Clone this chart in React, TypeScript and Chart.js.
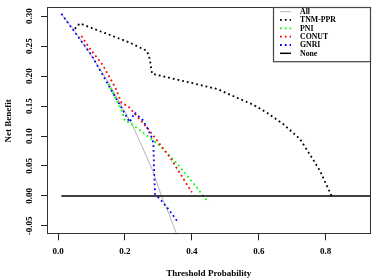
import React, { useEffect, useRef } from "react";
import { Chart, registerables } from "chart.js";

Chart.register(...registerables);

// ---- data ----
const legendLabels = ["All", "TNM-PPR", "PNI", "CONUT", "GNRI", "None"];

const allX = [0.01, 0.05, 0.10, 0.15, 0.20, 0.224, 0.25, 0.284, 0.309, 0.33, 0.356];
const allY = [0.304, 0.275, 0.234, 0.19, 0.14, 0.116, 0.084, 0.041, 0.0, -0.028, -0.066];

const tnmX = [0.05, 0.065, 0.214, 0.266, 0.274, 0.281, 0.479, 0.514, 0.584, 0.624, 0.673, 0.723, 0.754, 0.784, 0.819];
const tnmY = [0.279, 0.288, 0.256, 0.242, 0.229, 0.204, 0.178, 0.169, 0.152, 0.139, 0.12, 0.095, 0.068, 0.041, -0.002];

const pniX = [0.15, 0.19, 0.2, 0.215, 0.242, 0.304, 0.359, 0.419, 0.449];
const pniY = [0.187, 0.143, 0.125, 0.122, 0.111, 0.084, 0.052, 0.011, -0.011];

const conutX = [0.07, 0.094, 0.134, 0.172, 0.19, 0.209, 0.269, 0.334, 0.4];
const conutY = [0.267, 0.247, 0.218, 0.18, 0.155, 0.15, 0.112, 0.065, 0.006];

const gnriX = [0.01, 0.1, 0.174, 0.19, 0.206, 0.214, 0.229, 0.254, 0.27, 0.281, 0.285, 0.287, 0.29, 0.309, 0.334, 0.36];
const gnriY = [0.304, 0.235, 0.162, 0.147, 0.131, 0.123, 0.139, 0.126, 0.11, 0.096, 0.088, 0.046, 0.003, -0.008, -0.025, -0.045];

const noneX = [0.01, 0.99];
const noneY = [0, 0];

const xTicks = [0.0, 0.2, 0.4, 0.6, 0.8];
const yTicks = [-0.05, 0.0, 0.05, 0.1, 0.15, 0.2, 0.25, 0.3];

const pts = (xs: number[], ys: number[]) => xs.map((x, i) => ({ x, y: ys[i] }));

const FONT = "'Liberation Serif', 'Times New Roman', serif";

export default function App() {
  const ref = useRef<HTMLCanvasElement>(null);

  useEffect(() => {
    if (!ref.current) return;
    const dotted = [1.8, 3.0];
    const styles = [
      { color: "#b4b4b4", width: 1, dash: [] as number[] },
      { color: "#000000", width: 1.8, dash: dotted },
      { color: "#00ff00", width: 1.8, dash: dotted },
      { color: "#ff0000", width: 1.8, dash: dotted },
      { color: "#0000ff", width: 1.8, dash: dotted },
      { color: "#000000", width: 1.5, dash: [] as number[] },
    ];
    const series = [
      pts(allX, allY),
      pts(tnmX, tnmY),
      pts(pniX, pniY),
      pts(conutX, conutY),
      pts(gnriX, gnriY),
      pts(noneX, noneY),
    ];
    const datasets = series.map((d, i) => ({
      label: legendLabels[i],
      data: d,
      showLine: true,
      pointRadius: 0,
      borderColor: styles[i].color,
      borderWidth: styles[i].width,
      borderDash: styles[i].dash,
      borderCapStyle: "butt" as const,
      tension: 0,
      fill: false,
      order: series.length - i,
    }));

    const boxPlugin = {
      id: "rbox",
      afterDraw(chart: any) {
        const { ctx, chartArea: a } = chart;
        ctx.save();
        ctx.strokeStyle = "#333";
        ctx.lineWidth = 1;
        const l = Math.round(a.left) + 0.5;
        const t = Math.round(a.top) + 0.5;
        const r = Math.round(a.right) - 0.5;
        const b = Math.round(a.bottom) - 0.5;
        ctx.strokeRect(l, t, r - l, b - t);
        // legend box (top-right, inside plot)
        const lx = 273.5, ly = t, lw = r - 273.5, lh = 61.7 - t;
        ctx.fillStyle = "#fff";
        ctx.fillRect(lx, ly, lw, lh);
        ctx.strokeStyle = "#444";
        ctx.lineWidth = 1.2;
        ctx.strokeRect(lx, ly, lw, lh);
        const rowY = [11.7, 19.9, 28.3, 36.7, 45.0, 53.3];
        for (let i = 0; i < legendLabels.length; i++) {
          const st = styles[i];
          ctx.beginPath();
          ctx.strokeStyle = st.color;
          ctx.lineWidth = st.width;
          ctx.setLineDash(st.dash);
          ctx.lineCap = "butt";
          ctx.moveTo(280, rowY[i]);
          ctx.lineTo(291, rowY[i]);
          ctx.stroke();
          ctx.setLineDash([]);
          ctx.fillStyle = "#000";
          ctx.font = `bold 7.8px ${FONT}`;
          ctx.textBaseline = "middle";
          ctx.textAlign = "left";
          ctx.fillText(legendLabels[i], 300, rowY[i] + 0.3);
        }
        ctx.restore();
      },
    };

    const chart = new Chart(ref.current, {
      type: "scatter",
      data: { datasets },
      options: {
        animation: false,
        responsive: false,
        devicePixelRatio: 1,
        layout: { padding: { top: 2.7, right: 2.5, left: 0, bottom: 0 } },
        plugins: { legend: { display: false }, tooltip: { enabled: false } },
        scales: {
          x: {
            type: "linear",
            min: -0.033,
            max: 0.934,
            afterFit: (s: any) => { s.height = 45.7; },
            afterBuildTicks: (s: any) => { s.ticks = xTicks.map((v) => ({ value: v })); },
            border: { display: false },
            grid: { display: true, drawOnChartArea: false, drawTicks: true, tickLength: 6, tickColor: "#222", lineWidth: 1 },
            ticks: {
              color: "#000",
              font: { family: FONT, size: 9, weight: "bold" },
              padding: 6,
              maxRotation: 0,
              minRotation: 0,
              autoSkip: false,
              callback: (v: any) => Number(v).toFixed(1),
            },
            title: {
              display: true,
              text: "Threshold Probability",
              color: "#000",
              font: { family: FONT, size: 9, weight: "bold" },
              padding: { top: 0, bottom: 0.6 },
            },
          },
          y: {
            type: "linear",
            min: -0.0641,
            max: 0.3147,
            afterFit: (s: any) => { s.width = 47; },
            afterBuildTicks: (s: any) => { s.ticks = yTicks.map((v) => ({ value: v })); },
            border: { display: false },
            grid: { display: true, drawOnChartArea: false, drawTicks: true, tickLength: 6, tickColor: "#222", lineWidth: 1 },
            ticks: {
              color: "#000",
              font: { family: FONT, size: 9, weight: "bold" },
              padding: 2,
              minRotation: 90,
              maxRotation: 90,
              crossAlign: "center",
              autoSkip: false,
              callback: (v: any) => Number(v).toFixed(2),
            },
            title: {
              display: true,
              text: "Net Benefit",
              color: "#000",
              font: { family: FONT, size: 9, weight: "bold" },
              padding: { top: 3.6, bottom: 0 },
            },
          },
        },
      },
      plugins: [boxPlugin],
    });
    return () => chart.destroy();
  }, []);

  return (
    <div style={{ position: "fixed", left: 0, top: 0, width: 373, height: 280, background: "#fff" }}>
      <canvas ref={ref} width={373} height={280} style={{ width: 373, height: 280, display: "block" }} />
    </div>
  );
}
